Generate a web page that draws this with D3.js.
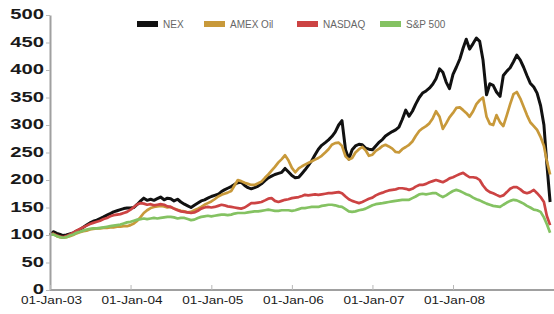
<!DOCTYPE html>
<html>
<head>
<meta charset="utf-8">
<script src="https://cdn.jsdelivr.net/npm/d3@7"></script>
<style>
  body { margin: 0; background: #fff; }
  svg { display: block; font-family: "Liberation Sans", Arial, sans-serif; }
</style>
</head>
<body>
<svg id="chart" width="554" height="314"></svg>
<script>
// half-monthly samples, Jan 2003 .. Mar 2009
const dates = d3.utcMonth.range(new Date(Date.UTC(2003, 0, 1)), new Date(Date.UTC(2009, 3, 1)))
  .flatMap(d => [d, d3.utcDay.offset(d, 15)]);

const nex = [
  100,106,103,101,99,100,102,104,107,110,
  114,118,122,125,127,130,133,136,139,142,
  144,146,148,149,149,150,156,162,167,163,
  165,163,166,169,164,167,166,162,165,160,
  156,153,150,154,158,162,164,167,170,172,
  174,179,182,185,188,192,195,196,190,186,
  184,186,189,193,199,204,207,210,212,214,
  221,215,208,204,205,212,218,226,235,246,
  256,263,268,273,279,287,300,308,255,238,
  255,262,265,264,258,256,255,262,269,274,
  280,284,288,291,296,310,327,316,325,338,
  350,358,362,367,374,384,402,396,378,366,
  392,405,420,440,456,438,448,458,452,418,
  355,375,372,360,352,390,398,404,415,427,
  418,405,390,376,369,358,335,300,230,160
];
const amexOil = [
  100,102,98,96,95,96,98,100,103,105,
  107,108,110,111,112,112,113,113,114,114,
  115,115,116,116,118,121,126,133,140,145,
  149,151,152,153,152,150,151,148,146,144,
  143,141,142,145,148,151,155,158,161,165,
  170,173,175,177,180,190,200,198,195,193,
  191,191,194,197,204,210,217,224,232,238,
  245,236,222,214,221,225,228,231,234,237,
  240,244,250,256,264,267,268,262,243,237,
  240,250,256,260,254,244,246,253,257,262,
  264,261,257,251,250,256,260,264,270,280,
  289,294,298,303,312,325,315,293,303,314,
  322,331,332,327,322,315,325,338,345,350,
  315,302,300,318,305,298,318,338,356,360,
  348,333,318,305,298,291,278,262,235,210
];
const nasdaq = [
  100,102,99,97,96,98,101,104,108,111,
  114,117,120,122,124,126,129,131,134,136,
  137,138,140,142,146,151,156,158,157,155,
  156,154,155,156,155,152,151,148,145,143,
  142,141,140,141,144,148,150,151,150,151,
  153,155,154,152,151,150,149,148,150,154,
  158,158,159,160,163,166,167,162,160,162,
  164,165,167,168,169,171,173,172,173,174,
  173,174,175,176,176,177,178,176,170,165,
  162,160,158,160,163,166,168,172,175,177,
  179,181,182,183,185,185,184,182,184,188,
  191,191,193,196,198,200,198,196,199,203,
  205,208,211,213,209,205,205,204,200,190,
  182,178,176,173,170,172,178,184,187,187,
  183,178,176,178,182,176,169,160,135,118
];
const sp500 = [
  100,101,98,96,95,96,99,101,104,106,
  108,110,111,112,112,113,114,115,116,117,
  118,119,121,123,124,126,128,129,130,129,
  130,131,130,131,132,133,133,132,130,131,
  131,129,127,128,131,133,134,135,134,135,
  136,137,137,136,137,139,140,140,140,141,
  142,143,143,144,145,146,145,144,144,145,
  145,145,144,145,147,149,149,150,151,151,
  151,153,154,155,155,154,152,151,147,143,
  142,143,145,146,148,151,154,156,157,158,
  159,160,161,162,163,164,164,164,167,170,
  174,175,174,175,176,176,172,169,172,176,
  180,182,180,177,174,172,168,165,163,160,
  157,155,153,152,151,155,159,162,164,163,
  160,157,153,150,146,145,142,132,120,104
];

const seriesNames = ['NEX', 'AMEX Oil', 'NASDAQ', 'S&P 500'];
const seriesColors = ['#111111', '#c8993a', '#cc4343', '#84c262'];
const seriesValues = [nex, amexOil, nasdaq, sp500];

const xTickDates = ['2003-01-01', '2004-01-01', '2005-01-01', '2006-01-01', '2007-01-01', '2008-01-01'];
const xTickLabels = ['01-Jan-03', '01-Jan-04', '01-Jan-05', '01-Jan-06', '01-Jan-07', '01-Jan-08'];
const yTicks = [0, 50, 100, 150, 200, 250, 300, 350, 400, 450, 500];

const width = 554, height = 314;
const margin = { top: 15, right: 0, bottom: 24, left: 50 };

const svg = d3.select('#chart');

const x = d3.scaleUtc()
  .domain([new Date(Date.UTC(2003, 0, 1)), new Date(Date.UTC(2008, 0, 1))])
  .range([margin.left, margin.left + 403]);
const y = d3.scaleLinear()
  .domain([0, 500])
  .range([height - margin.bottom, margin.top]);

// lines
const line = d3.line()
  .x((d, i) => x(dates[i]))
  .y(d => y(d));

svg.append('g')
  .selectAll('path')
  .data(seriesValues)
  .join('path')
  .attr('fill', 'none')
  .attr('stroke', (d, i) => seriesColors[i])
  .attr('stroke-width', (d, i) => i === 0 ? 3 : 2.7)
  .attr('stroke-linejoin', 'round')
  .attr('d', line);

// y axis
const yAxis = svg.append('g')
  .attr('transform', `translate(${margin.left},0)`)
  .call(d3.axisLeft(y).tickValues(yTicks).tickSize(4).tickPadding(5).tickSizeOuter(0));
yAxis.select('.domain').attr('stroke', '#a0a0a0').attr('stroke-width', 2);
yAxis.selectAll('.tick line').attr('stroke', '#b8b8b8');
yAxis.selectAll('.tick text')
  .attr('fill', '#1a1a1a')
  .attr('font-size', 15)
  .attr('font-weight', 'bold')
  .attr('x', 0)
  .attr('transform', 'translate(-6,-1) scale(1.35,1)');

// x axis
const xAxis = svg.append('g')
  .attr('transform', `translate(0,${height - margin.bottom})`)
  .call(d3.axisBottom(x)
    .tickValues(xTickDates.map(s => new Date(s + 'T00:00:00Z')))
    .tickFormat((d, i) => xTickLabels[i])
    .tickSize(-5).tickPadding(3).tickSizeOuter(0));
xAxis.select('.domain').attr('stroke', '#a0a0a0').attr('stroke-width', 2)
  .attr('d', `M${margin.left},0H${width}`);
xAxis.selectAll('.tick line').attr('stroke', '#b8b8b8');
xAxis.selectAll('.tick text')
  .attr('fill', '#1a1a1a')
  .attr('font-size', 11.5)
  .attr('y', 0)
  .attr('dy', 0)
  .attr('transform', 'translate(1,14) scale(1.18,1)');

// legend
const legendX = [137, 204, 297, 380];
const legend = svg.append('g')
  .selectAll('g')
  .data(seriesNames)
  .join('g')
  .attr('transform', (d, i) => `translate(${legendX[i]},21)`);
legend.append('rect')
  .attr('width', 21)
  .attr('height', 6)
  .attr('fill', (d, i) => seriesColors[i]);
legend.append('text')
  .attr('x', 26)
  .attr('y', 7)
  .attr('font-size', 10)
  .attr('fill', '#666')
  .text(d => d);
</script>
</body>
</html>
